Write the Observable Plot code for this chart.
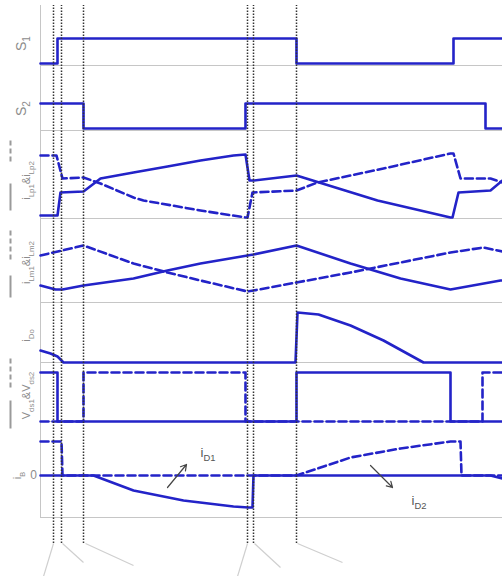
<!DOCTYPE html>
<html>
<head>
<meta charset="utf-8">
<script src="https://cdn.jsdelivr.net/npm/d3@7"></script>
<script src="https://cdn.jsdelivr.net/npm/@observablehq/plot@0.6"></script>
<style>
  html, body { margin: 0; padding: 0; background: #fff; }
  #chart svg { display: block; }
</style>
</head>
<body>
<div id="chart"></div>
<script>
// ---------- DATA (time t in arbitrary units; values in each panel's own units) ----------
// Gate signals (0 = off, 1 = on)
const s1Times = [0, 17, 256, 413, 462];
const s1Levels = [0, 1, 0, 1, 1];
const s2Times = [0, 43, 205, 445, 462];
const s2Levels = [1, 0, 1, 0, 0];

// Primary inductor currents i_Lp1 (solid) and i_Lp2 (dashed)
const iLp1Times = [0, 17, 20, 43, 60, 93, 127, 160, 193, 205, 209, 213, 256, 337, 410, 412, 418, 450, 462];
const iLp1Values = [3, 3, 26, 27, 40, 46, 52, 58, 63, 64, 38, 38, 43, 18, 1, 1, 26, 28, 38];
const iLp2Times = [0, 16, 22, 43, 60, 93, 103, 160, 205, 207, 212, 256, 277, 343, 410, 413, 420, 450, 462];
const iLp2Values = [63, 63, 40, 41, 35, 21, 18, 8, 1, 1, 26, 28, 36, 50, 65, 65, 40, 40, 36];

// Magnetizing currents i_Lm1 (solid) and i_Lm2 (dashed)
const iLm1Times = [0, 15, 22, 43, 93, 127, 160, 207, 213, 256, 310, 360, 410, 460, 462];
const iLm1Values = [17, 13, 13, 17, 24, 32, 39, 47, 48, 57, 39, 24, 13, 22, 22];
const iLm2Times = [0, 43, 93, 127, 160, 207, 213, 256, 310, 360, 410, 443, 462];
const iLm2Values = [47, 57, 39, 30, 22, 11, 12, 20, 30, 40, 50, 55, 51];

// Output diode current i_Do
const iDoTimes = [0, 10, 17, 23, 255, 257, 278, 310, 343, 383, 462];
const iDoValues = [12, 9, 6, 0, 0, 50, 48, 37, 22, 0, 0];

// Switch voltages V_ds1 (solid) and V_ds2 (dashed), 0 = low, 1 = high
const vds1Times = [0, 17, 256, 410, 462];
const vds1Levels = [1, 0, 1, 0, 0];
const vds2Times = [0, 43, 205, 442, 462];
const vds2Levels = [0, 1, 0, 1, 1];

// Current i_B (solid) and diode branch (dashed)
const iBSolidTimes = [0, 53, 93, 143, 193, 208, 212, 213, 450, 462];
const iBSolidValues = [0, 0, -15, -25, -31, -32, -32, 0, 0, -3];
const iBDashTimes = [0, 21, 22, 256, 277, 310, 360, 410, 420, 421, 462];
const iBDashValues = [34, 34, 0, 0, 7, 18, 27, 34, 34, 0, 0];

// Switching instants (dotted markers)
const markerTimes = [13, 21, 43, 207, 213, 256];

// Text
const panelLabels = ["S_{1}", "S_{2}", "i_{Lp1}&i_{Lp2}", "i_{Lm1}&i_{Lm2}", "i_{Do}", "V_{ds1}&V_{ds2}", "i_{B}"];
const zeroLabel = "0";
const diodeLabels = ["i_{D1}", "i_{D2}"];

// ---------- LAYOUT (stacked panels on one y scale) ----------
const layout = {
  s1: {zero: 513, gain: 25},
  s2: {zero: 448, gain: 25},
  lp: {zero: 358, gain: 1},
  lm: {zero: 274, gain: 1},
  dO: {zero: 214, gain: 1},
  vds: {zero: 155, gain: 49},
  ib: {zero: 101, gain: 1}
};
const gridRows = [511, 446, 358, 274, 214, 155, 59];
const labelPos = [
  {x: -19, y: 533, size: 14}, {x: -19, y: 468, size: 14},
  {x: -14, y: 396, size: 11}, {x: -14, y: 314, size: 11},
  {x: -14, y: 241, size: 11}, {x: -14, y: 181, size: 11},
  {x: -23, y: 101, size: 11}
];
const legendSolid = [
  {x1: -30, y1: 393, x2: -30, y2: 366}, {x1: -30, y1: 301, x2: -30, y2: 279}, {x1: -30, y1: 176, x2: -30, y2: 148}
];
const legendDash = [
  {x1: -30, y1: 436, x2: -30, y2: 413}, {x1: -30, y1: 346, x2: -30, y2: 314}, {x1: -30, y1: 218, x2: -30, y2: 189}
];
const diodeArrows = [
  {x1: 127, y1: 89, x2: 146, y2: 112},
  {x1: 330, y1: 111, x2: 352, y2: 89}
];
const diodeLabelPos = [{x: 160, y: 120}, {x: 371, y: 72}];
const leaders = [
  {x1: 13, y1: 33, x2: 3, y2: 0}, {x1: 22, y1: 33, x2: 43, y2: 14}, {x1: 45, y1: 33, x2: 93, y2: 11},
  {x1: 207, y1: 33, x2: 197, y2: 0}, {x1: 214, y1: 33, x2: 240, y2: 9}, {x1: 257, y1: 33, x2: 302, y2: 14}
];

// ---------- BUILD ----------
const BLUE = "#2323c8";
const GRID = "#c6c6c6";
const TXT = "#8c8c8c";
const pts = (ts, vs, p) => ts.map((t, i) => ({t, y: p.zero + vs[i] * p.gain}));

const solid = {x: "t", y: "y", stroke: BLUE, strokeWidth: 2.6};
const dashed = {...solid, strokeDasharray: "8,4"};

const chart = Plot.plot({
  width: 502,
  height: 576,
  marginLeft: 40, marginRight: 0, marginTop: 0, marginBottom: 0,
  x: {domain: [0, 462], axis: null},
  y: {domain: [0, 576], axis: null},
  style: {fontFamily: "'Liberation Sans', Arial, sans-serif", background: "#fff"},
  marks: [
    Plot.ruleY(gridRows, {x1: 0, x2: 462, stroke: GRID, strokeWidth: 1}),
    Plot.ruleX([0], {y1: 59, y2: 571, stroke: GRID, strokeWidth: 1}),
    Plot.link(leaders, {x1: "x1", y1: "y1", x2: "x2", y2: "y2", stroke: "#cfcfcf", strokeWidth: 1.2}),

    Plot.line(pts(s1Times, s1Levels, layout.s1), {...solid, curve: "step-after"}),
    Plot.line(pts(s2Times, s2Levels, layout.s2), {...solid, curve: "step-after"}),

    Plot.line(pts(iLp2Times, iLp2Values, layout.lp), dashed),
    Plot.line(pts(iLp1Times, iLp1Values, layout.lp), solid),

    Plot.line(pts(iLm2Times, iLm2Values, layout.lm), dashed),
    Plot.line(pts(iLm1Times, iLm1Values, layout.lm), solid),

    Plot.line(pts(iDoTimes, iDoValues, layout.dO), solid),

    Plot.line(pts(vds2Times, vds2Levels, layout.vds), {...dashed, curve: "step-after"}),
    Plot.line(pts(vds1Times, vds1Levels, layout.vds), {...solid, curve: "step-after"}),

    Plot.line(pts(iBSolidTimes, iBSolidValues, layout.ib), solid),
    Plot.line(pts(iBDashTimes, iBDashValues, layout.ib), dashed),

    Plot.ruleX(markerTimes, {y1: 33, y2: 571, stroke: "#333", strokeWidth: 1.5, strokeDasharray: "1.5,1.5"}),

    // axis labels
    Plot.text(panelLabels.slice(0, 2), {x: (d, i) => labelPos[i].x, y: (d, i) => labelPos[i].y, text: d => d, rotate: -90, fill: TXT, fontSize: 14}),
    Plot.text(panelLabels.slice(2), {x: (d, i) => labelPos[i + 2].x, y: (d, i) => labelPos[i + 2].y, text: d => d, rotate: -90, fill: TXT, fontSize: 11}),
    Plot.text([zeroLabel], {x: -7, y: layout.ib.zero, text: d => d, fill: TXT, fontSize: 12}),
    Plot.link(legendSolid, {x1: "x1", y1: "y1", x2: "x2", y2: "y2", stroke: "#9a9a9a", strokeWidth: 2}),
    Plot.link(legendDash, {x1: "x1", y1: "y1", x2: "x2", y2: "y2", stroke: "#9a9a9a", strokeWidth: 2, strokeDasharray: "5,3"}),

    // diode annotations
    Plot.arrow(diodeArrows, {x1: "x1", y1: "y1", x2: "x2", y2: "y2", stroke: "#444", strokeWidth: 1.2, headLength: 8}),
    Plot.text(diodeLabels, {x: (d, i) => diodeLabelPos[i].x, y: (d, i) => diodeLabelPos[i].y, text: d => d, fill: "#555", fontSize: 13, textAnchor: "start", lineAnchor: "bottom"})
  ]
});

// subscripts: turn "a_{b}" into tspans
chart.querySelectorAll("text").forEach(el => {
  const s = el.textContent;
  if (!s.includes("_{")) return;
  el.textContent = "";
  const re = /_\{([^}]*)\}|[^_]+/g;
  let m, sub = false;
  const fs = parseFloat(el.getAttribute("font-size") || el.parentNode.getAttribute("font-size") || 11);
  const shift = fs * 0.32;
  while ((m = re.exec(s))) {
    const ts = document.createElementNS("http://www.w3.org/2000/svg", "tspan");
    if (m[1] !== undefined) {
      ts.textContent = m[1];
      ts.setAttribute("font-size", (fs * 0.72).toFixed(1));
      ts.setAttribute("dy", shift.toFixed(1));
      sub = true;
    } else {
      ts.textContent = m[0];
      if (sub) ts.setAttribute("dy", (-shift).toFixed(1));
      sub = false;
    }
    el.appendChild(ts);
  }
});

document.getElementById("chart").appendChild(chart);
</script>
</body>
</html>
